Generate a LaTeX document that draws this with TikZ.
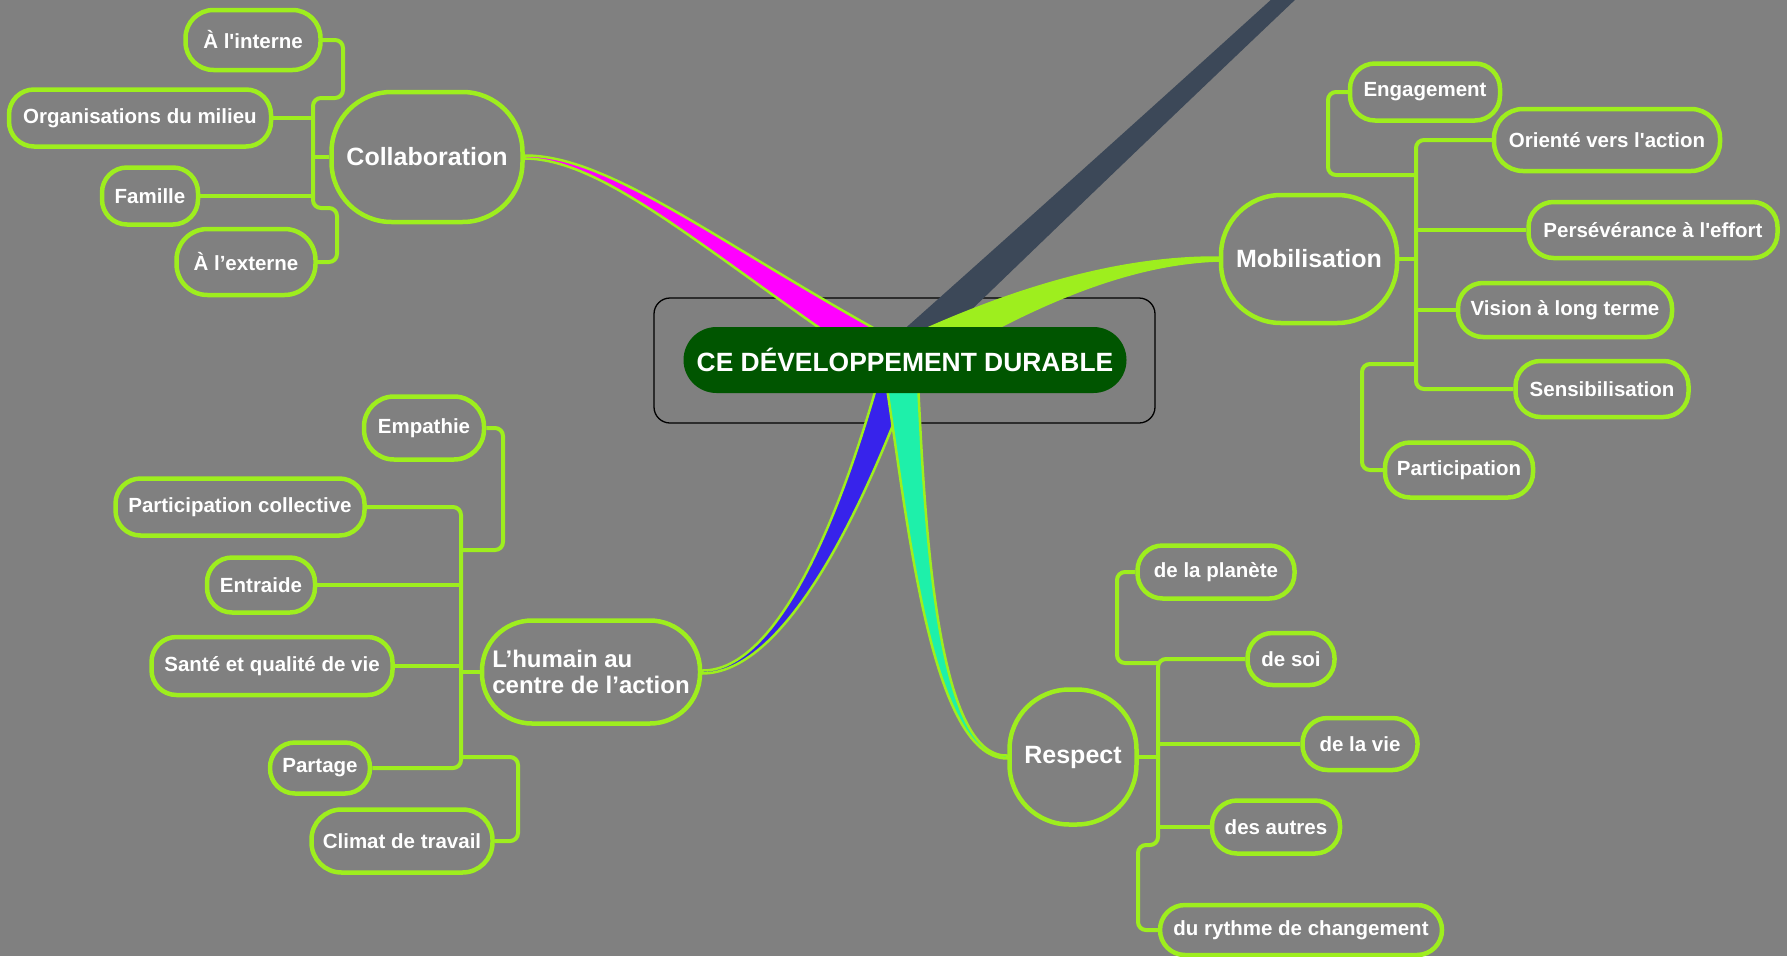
\documentclass[tikz,border=0pt]{standalone}
\usepackage{fontspec}
\setmainfont{Liberation Sans}
\usetikzlibrary{calc}
\definecolor{bg}{RGB}{128,128,128}
\definecolor{lime}{RGB}{158,238,30}
\definecolor{dgreen}{RGB}{0,85,0}
\definecolor{mag}{RGB}{255,0,255}
\definecolor{bluebr}{RGB}{55,35,235}
\definecolor{cyanbr}{RGB}{30,240,170}
\definecolor{slate}{RGB}{60,72,88}
% #1 style, #2 start, #3 c1, #4 c2, #5 end, #6 w start, #7 w c1, #8 w c2, #9 w end
\newcommand{\mmbranch}[9]{%
  \coordinate (tSu) at ($(#2)!#6!90:(#3)$);
  \coordinate (tSl) at ($(#2)!#6!-90:(#3)$);
  \coordinate (tAu) at ($(#3)!#7!90:(#4)$);
  \coordinate (tAl) at ($(#3)!#7!-90:(#4)$);
  \coordinate (tBu) at ($(#4)!#8!90:(#5)$);
  \coordinate (tBl) at ($(#4)!#8!-90:(#5)$);
  \coordinate (tEu) at ($(#5)!#9!-90:(#4)$);
  \coordinate (tEl) at ($(#5)!#9!90:(#4)$);
  \path[#1] (tSu) .. controls (tAu) and (tBu) .. (tEu) -- (tEl) .. controls (tBl) and (tAl) .. (tSl) -- cycle;
}
\tikzset{
  pill/.style={draw=lime, line width=4.5pt, fill=bg, rounded corners=25pt,
    minimum height=55pt, inner xsep=8pt, inner ysep=0pt, text=white,
    font=\fontsize{20.5}{24}\selectfont\bfseries},
  mainnode/.style={draw=lime, line width=4.5pt, fill=bg, inner sep=0pt, text=white,
    font=\fontsize{25}{28}\selectfont\bfseries},
  br/.style={draw=lime, line width=4pt, rounded corners=8pt},
  brfill/.style={line width=2.5pt, draw=lime, line join=round},
}
\begin{document}
\begin{tikzpicture}[x=1pt,y=-1pt]
\useasboundingbox (0,0) rectangle (1787,956);
\clip (0,0) rectangle (1787,956);
\fill[bg] (0,0) rectangle (1787,956);

% outer frame of the central topic
\draw[black, line width=1.3pt, rounded corners=16pt] (654,298) rectangle (1155,423);

\coordinate (hub) at (900,362);

% ---- main nodes
\node[mainnode, rounded corners=60pt, minimum width=191pt, minimum height=130pt] (collab) at (427,157) {Collaboration};
\node[mainnode, rounded corners=60pt, minimum width=176pt, minimum height=128pt] (mob) at (1309,259) {Mobilisation};
\node[mainnode, rounded corners=50pt, minimum width=218pt, minimum height=103pt, align=left,
      font=\fontsize{24}{25.5}\selectfont\bfseries] (humain) at (591,672) {L’humain au\\centre de l’action};
\node[mainnode, rounded corners=60pt, minimum width=127pt, minimum height=135pt] (respect) at (1073,757) {Respect};

% ---- tapered branches
\coordinate (dtop) at (1298,-14);
\coordinate (dend) at (893,362);
\coordinate (dA) at ($(dtop)!0.33!(dend)$);
\coordinate (dB) at ($(dtop)!0.66!(dend)$);
\mmbranch{fill=slate}{dtop}{dA}{dB}{dend}{8pt}{10pt}{13pt}{17pt}
\coordinate (cc1) at (610,157); \coordinate (cc2) at (720,255);
\mmbranch{fill=mag, brfill}{collab.east}{cc1}{cc2}{hub}{1.5pt}{2.5pt}{8pt}{17pt}
\coordinate (mc1) at (1140,260); \coordinate (mc2) at (1040,285);
\mmbranch{fill=lime, brfill}{mob.west}{mc1}{mc2}{hub}{1.5pt}{3pt}{10pt}{19pt}
\coordinate (hc1) at (780,672); \coordinate (hc2) at (850,520);
\mmbranch{fill=bluebr, brfill}{humain.east}{hc1}{hc2}{hub}{1.5pt}{2.5pt}{9pt}{16pt}
\coordinate (rc1) at (930,758); \coordinate (rc2) at (915,500);
\mmbranch{fill=cyanbr, brfill}{respect.west}{rc1}{rc2}{hub}{1.5pt}{2.5pt}{9pt}{17pt}

% ---- central topic
\node[fill=dgreen, rounded corners=33pt, minimum width=443pt, minimum height=66pt, inner sep=0pt,
      text=white, font=\fontsize{26.4}{30}\selectfont\bfseries] (center) at (905,360) {CE DÉVELOPPEMENT DURABLE};

% ---- Collaboration cluster
\node[pill, minimum width=135pt, minimum height=60pt, rounded corners=28pt] (interne) at (253,40) {À l\textquotesingle interne};
\node[pill, minimum width=262pt, minimum height=57pt] (org) at (140,118) {Organisations du milieu};
\node[pill, minimum width=96pt, minimum height=57pt] (famille) at (150,196) {Famille};
\node[pill, minimum width=139pt, minimum height=66pt, rounded corners=31pt] (externe) at (246,262) {À l’externe};
\coordinate (cTJ) at (313,98); \coordinate (cTC) at (343,98);
\coordinate (cBJ) at (313,208); \coordinate (cBC) at (337,208);
\draw[br] (interne.east) -| (cTC) -- (cTJ) -- (cBJ) -- (cBC) |- (externe.east);
\draw[br] (org.east) -- (org.east -| cTJ);
\draw[br] (famille.east) -- (famille.east -| cTJ);
\draw[br] (collab.west) -- (collab.west -| cTJ);

% ---- Mobilisation cluster
\node[pill, minimum width=150pt, minimum height=57pt] (engagement) at (1425,92) {Engagement};
\node[pill, minimum width=226pt, minimum height=62pt, rounded corners=29pt] (oriente) at (1607,140) {Orienté vers l\textquotesingle action};
\node[pill, minimum width=249pt, minimum height=56pt] (perseverance) at (1653,230) {Persévérance à l\textquotesingle effort};
\node[pill, minimum width=214pt, minimum height=54pt] (vision) at (1565,310) {Vision à long terme};
\node[pill, minimum width=173pt, minimum height=56pt] (sensib) at (1602,389) {Sensibilisation};
\node[pill, minimum width=148pt, minimum height=55pt] (particip) at (1459,470) {Participation};
\coordinate (mEJ) at (1416,175); \coordinate (mEC) at (1328,175);
\coordinate (mPJ) at (1416,364); \coordinate (mPC) at (1362,364);
\draw[br] (oriente.west) -| (sensib.west -| mEJ) -- (sensib.west);
\draw[br] (engagement.west) -| (mEC) -- (mEJ);
\draw[br] (mPJ) -- (mPC) |- (particip.west);
\draw[br] (mob.east) -- (mob.east -| mEJ);
\draw[br] (perseverance.west) -- (perseverance.west -| mEJ);
\draw[br] (vision.west) -- (vision.west -| mEJ);

% ---- Humain cluster
\node[pill, minimum width=120pt, minimum height=63pt, rounded corners=30pt] (empathie) at (424,428) {Empathie};
\node[pill, minimum width=249pt, minimum height=57pt] (partcoll) at (240,507) {Participation collective};
\node[pill, minimum width=108pt, minimum height=55pt] (entraide) at (261,585) {Entraide};
\node[pill, minimum width=241pt, minimum height=58pt] (sante) at (272,666) {Santé et qualité de vie};
\node[pill, minimum width=100pt, minimum height=51pt] (partage) at (320,768) {Partage};
\node[pill, minimum width=181pt, minimum height=63pt, rounded corners=30pt] (climat) at (402,841) {Climat de travail};
\coordinate (hEJ) at (461,550); \coordinate (hEC) at (503,550);
\coordinate (hCJ) at (461,757); \coordinate (hCC) at (518,757);
\draw[br] (partcoll.east) -| (partage.east -| hEJ) -- (partage.east);
\draw[br] (empathie.east) -| (hEC) -- (hEJ);
\draw[br] (hCJ) -- (hCC) |- (climat.east);
\draw[br] (entraide.east) -- (entraide.east -| hEJ);
\draw[br] (sante.east) -- (sante.east -| hEJ);
\draw[br] (humain.west) -- (humain.west -| hEJ);

% ---- Respect cluster
\node[pill, minimum width=157pt, minimum height=53pt] (planete) at (1216,572) {de la planète};
\node[pill, minimum width=87pt, minimum height=52pt] (soi) at (1291,659) {de soi};
\node[pill, minimum width=115pt, minimum height=52pt] (vie) at (1360,744) {de la vie};
\node[pill, minimum width=128pt, minimum height=53pt] (autres) at (1276,827) {des autres};
\node[pill, minimum width=282pt, minimum height=50pt] (rythme) at (1301,930) {du rythme de changement};
\coordinate (rPJ) at (1158,663); \coordinate (rPC) at (1117,663);
\coordinate (rRJ) at (1158,845); \coordinate (rRC) at (1138,845);
\draw[br] (soi.west) -| (rRJ) -- (rRC) |- (rythme.west);
\draw[br] (planete.west) -| (rPC) -- (rPJ);
\draw[br] (vie.west) -- (vie.west -| rPJ);
\draw[br] (autres.west) -- (autres.west -| rPJ);
\draw[br] (respect.east) -- (respect.east -| rPJ);
\end{tikzpicture}
\end{document}
